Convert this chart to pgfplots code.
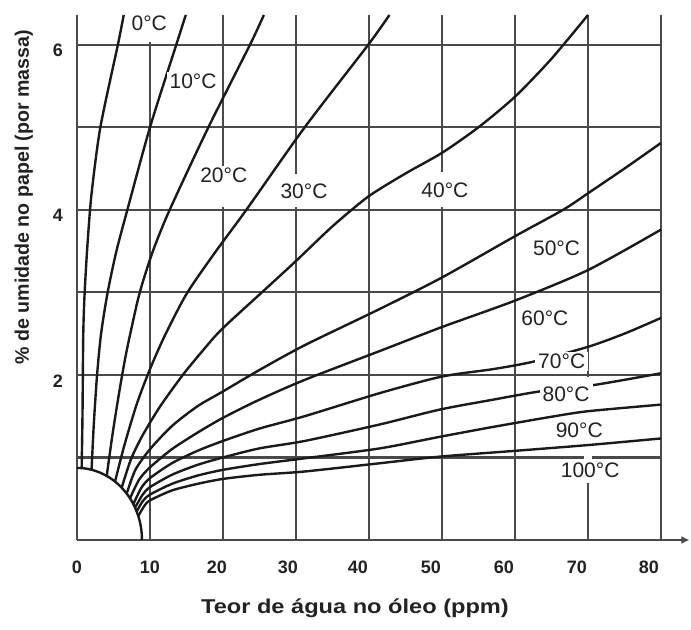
\documentclass[border=0pt]{standalone}
\usepackage{fontspec}
\setmainfont{Liberation Sans}
\usepackage{graphicx}
\usepackage{pgfplots}
\pgfplotsset{compat=1.18}
\usetikzlibrary{arrows.meta}
\definecolor{gridc}{HTML}{4A4A4A}
\definecolor{curvec}{HTML}{1A1A1A}
\definecolor{textc}{HTML}{222222}
\newcommand{\sh}[2]{\makebox[0pt]{\hspace*{-#1}#2\hspace*{#1}}}
\tikzset{
  curve/.style={curvec, line width=1.2pt, smooth, tension=0.45, mark=none},
  lab/.style={fill=white, inner xsep=1.5pt, inner ysep=1pt, font=\fontsize{10.5}{12}\selectfont, text=textc},
}
\begin{document}
\begin{tikzpicture}
\path (-38.5pt,-45pt) rectangle (307pt,270pt);
\begin{axis}[
  at={(0,0)}, anchor=south west,
  scale only axis, width=292pt, height=262.5pt,
  xmin=0, xmax=80, ymin=0, ymax=6.36,
  axis x line*=bottom, axis y line*=left,
  axis line style={gridc, line width=1.1pt},
  xtick={0,10,...,80}, ytick={1,2,3,4,5,6},
  xticklabels={0,10,\sh{3pt}{20},\sh{4pt}{30},\sh{5.5pt}{40},\sh{5.5pt}{50},\sh{5.5pt}{60},\sh{5.5pt}{70},\sh{6pt}{80}},
  yticklabels={{},2,{},4,{},6},
  grid=major, major grid style={gridc, line width=1.1pt},
  major tick length=0pt,
  /pgf/number format/assume math mode=true,
  tick label style={font=\fontsize{9}{10}\selectfont\bfseries, text=textc},
  xticklabel style={yshift=-7pt},
  yticklabel style={xshift=-3.5pt, yshift=-3pt},
  xlabel={\scalebox{1.18}[1]{Teor de água no óleo (ppm)}},
  ylabel={\% de umidade no papel (por massa)},
  xlabel style={at={(axis description cs:0.476,-0.1295)}, anchor=center, font=\fontsize{10}{12}\selectfont\bfseries, text=textc},
  ylabel style={at={(axis description cs:-0.091,0.653)}, anchor=center, font=\fontsize{9.8}{12}\selectfont\bfseries, text=textc},
  clip=false,
]
% gaps in the grid behind the labels
\fill[white] (axis cs:19.5,4.03) rectangle (axis cs:20.5,4.46);
\fill[white] (axis cs:29.5,4.03) rectangle (axis cs:30.5,4.43);
\fill[white] (axis cs:49.5,4.03) rectangle (axis cs:50.5,4.46);
\fill[white] (axis cs:69.5,0.69) rectangle (axis cs:70.5,1.98);
\fill[white] (axis cs:9.5,6.03) rectangle (axis cs:10.5,6.36);
\draw[gridc, line width=1.1pt, -{Latex[length=4pt,width=4pt]}] (axis cs:80,0) -- (axis cs:83.9,0);
% quarter arc
\addplot[curve] coordinates {(8.9,0) (8.866,0.076) (8.765,0.152) (8.597,0.226) (8.363,0.299) (8.066,0.369) (7.708,0.437) (7.290,0.501) (6.818,0.561) (6.293,0.617) (5.721,0.669) (5.105,0.715) (4.45,0.756) (3.761,0.791) (3.044,0.820) (2.303,0.843) (1.545,0.860) (0.776,0.870) (0,0.873)};
% 0 C
\addplot[curve] coordinates {(0.64,0.871) (0.75,1.5) (0.86,2.5) (1.05,3.0) (1.45,3.6) (2.0,4.2) (3.2,5.0) (5.6,6.0) (6.4,6.36)};
% 10 C
\addplot[curve] coordinates {(2.0,0.86) (2.3,1.4) (2.75,2.0) (3.3,2.5) (4.2,3.0) (5.4,3.5) (6.9,4.0) (10.0,5.0) (13.6,6.0) (14.9,6.36)};
% 20 C
\addplot[curve] coordinates {(4.07,0.776) (4.9,1.3) (5.8,1.8) (6.6,2.2) (7.3,2.5) (8.6,3.0) (10.4,3.5) (12.7,4.0) (18.0,5.0) (23.7,6.0) (25.6,6.36)};
% 30 C
\addplot[curve] coordinates {(5.21,0.708) (6.5,1.15) (8.2,1.65) (10,2.07) (12,2.47) (15,2.98) (18.8,3.47) (23.2,4.0) (31.2,5.0) (39.9,6.0) (42.8,6.36)};
% 40 C
\addplot[curve] coordinates {(6.12,0.633) (7.4,0.98) (9,1.27) (11.4,1.62) (14.5,2.0) (17,2.27) (19.8,2.55) (25.7,3.03) (30,3.38) (35,3.8) (39.9,4.16) (45,4.44) (50,4.69) (55,5.0) (60,5.37) (65,5.83) (70,6.36)};
% 50 C
\addplot[curve] coordinates {(6.81,0.562) (8,0.85) (10,1.1) (13,1.38) (16.5,1.62) (20,1.8) (25,2.06) (31.2,2.36) (41.5,2.8) (50,3.18) (60,3.68) (66.6,4.0) (70,4.2) (75,4.5) (80,4.81)};
% 60 C
\addplot[curve] coordinates {(7.26,0.504) (8.5,0.73) (10,0.88) (13,1.1) (16.5,1.3) (20,1.48) (25,1.7) (31.2,1.94) (41.5,2.29) (50,2.58) (60,2.9) (70,3.27) (80,3.76)};
% 70 C
\addplot[curve] coordinates {(7.72,0.435) (8.8,0.63) (10,0.75) (13,0.93) (16.5,1.08) (20,1.2) (25,1.35) (31.2,1.5) (41.5,1.78) (50,1.98) (57,2.07) (62.5,2.16) (70,2.34) (75,2.5) (80,2.69)};
% 80 C
\addplot[curve] coordinates {(7.95,0.392) (9,0.55) (10,0.64) (13,0.79) (16.5,0.91) (20,1.0) (25,1.11) (31.2,1.2) (41.5,1.4) (49.7,1.58) (57,1.7) (63.4,1.8) (71,1.88) (80,2.02)};
% 90 C
\addplot[curve] coordinates {(8.15,0.34) (9,0.47) (10,0.55) (13,0.68) (16.5,0.78) (20,0.85) (25,0.92) (31.2,0.99) (41.5,1.11) (49.7,1.25) (57,1.37) (64.8,1.49) (70,1.56) (80,1.64)};
% 100 C
\addplot[curve] coordinates {(8.4,0.29) (9.2,0.41) (10,0.48) (13,0.6) (16.5,0.68) (20,0.74) (25,0.79) (31.2,0.83) (41.5,0.93) (49.7,1.01) (60,1.08) (70,1.15) (80,1.23)};
% labels
\node[lab] at (axis cs:9.9,6.26) {0°C};
\node[lab] at (axis cs:15.9,5.56) {10°C};
\node[lab] at (axis cs:20.1,4.42) {20°C};
\node[lab] at (axis cs:31.1,4.23) {30°C};
\node[lab] at (axis cs:50.4,4.24) {40°C};
\node[lab] at (axis cs:65.7,3.54) {50°C};
\node[lab] at (axis cs:64.1,2.68) {60°C};
\node[lab] at (axis cs:66.4,2.16) {70°C};
\node[lab] at (axis cs:67.0,1.77) {80°C};
\node[lab] at (axis cs:68.8,1.33) {90°C};
\node[lab, inner xsep=3.5pt] at (axis cs:70.3,0.85) {100°C};
\end{axis}
\end{tikzpicture}
\end{document}
